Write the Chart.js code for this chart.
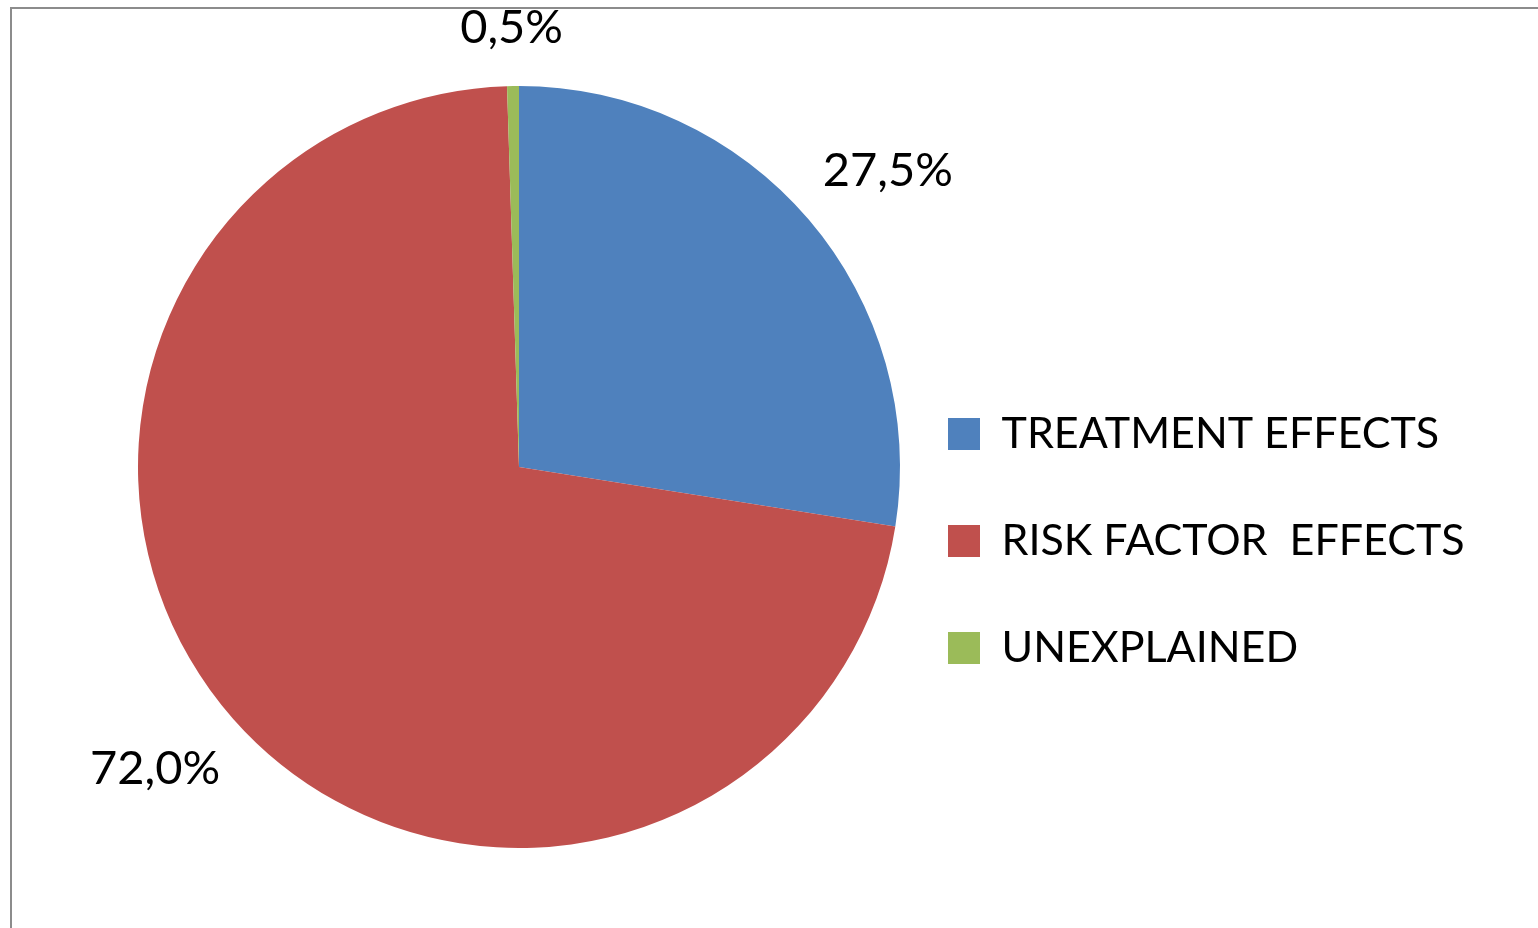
<!DOCTYPE html>
<html lang="en">
<head>
    <meta charset="UTF-8">
    <title>Effects breakdown</title>
    <script src="https://cdn.jsdelivr.net/npm/chart.js"></script>
    <style>
        html, body { margin: 0; padding: 0; background: #fff; }
        .wrap { position: relative; width: 1538px; height: 928px; overflow: hidden; }
        .frame { position: absolute; left: 10px; top: 7px; right: -5px; bottom: -5px;
                 border-top: 2px solid #8c8c8c; border-left: 2px solid #8c8c8c; }
        canvas { position: absolute; left: 0; top: 0; }
    </style>
</head>
<body>
<div class="wrap">
    <div class="frame"></div>
    <canvas id="pie" width="1538" height="928"></canvas>
</div>

<script>
    // data
    const categories = ["TREATMENT EFFECTS", "RISK FACTOR  EFFECTS", "UNEXPLAINED"];
    const shares = [27.5, 72.0, 0.5];
    const sliceColors = ["#4F81BD", "#C0504D", "#9BBB59"];

    const FONT = "Lato, 'Open Sans', sans-serif";
    const target = { cx: 519, cy: 467, boxX: 948, itemY: 412.5 };

    // percentage labels outside each slice, comma as decimal mark
    const outsideLabels = {
        id: "outsideLabels",
        afterDatasetsDraw(chart) {
            const ctx = chart.ctx;
            const meta = chart.getDatasetMeta(0);
            ctx.save();
            ctx.font = "47px " + FONT;
            ctx.fillStyle = "#000";
            ctx.textAlign = "center";
            ctx.textBaseline = "middle";
            meta.data.forEach((arc, i) => {
                const p = arc.getProps(["x", "y", "startAngle", "endAngle", "outerRadius"], true);
                const mid = (p.startAngle + p.endAngle) / 2;
                const txt = shares[i].toFixed(1).replace(".", ",") + "%";
                const w = ctx.measureText(txt).width;
                const gap = 39, halfH = 36.5;
                let x = p.x + Math.cos(mid) * (p.outerRadius + gap + w / 2);
                let y = p.y + Math.sin(mid) * (p.outerRadius + gap + halfH);
                y = Math.max(y, 28); // keep inside the frame
                ctx.fillText(txt, x, y);
            });
            ctx.restore();
        }
    };

    const chart = new Chart(document.getElementById("pie"), {
        type: "pie",
        data: {
            labels: categories,
            datasets: [{
                data: shares,
                backgroundColor: sliceColors,
                borderWidth: 0,
                hoverOffset: 0,
                offset: 0
            }]
        },
        options: {
            responsive: false,
            animation: false,
            events: [],
            radius: 381,
            layout: { padding: { top: 86, bottom: 80, left: 153, right: 73 } },
            plugins: {
                tooltip: { enabled: false },
                legend: {
                    position: "right",
                    align: "start",
                    title: { display: true, text: "", padding: { top: 249, bottom: 0 } },
                    labels: {
                        boxWidth: 32,
                        boxHeight: 32,
                        padding: 64,
                        color: "#000",
                        font: { family: FONT, size: 43 }
                    }
                }
            }
        },
        plugins: [outsideLabels]
    });

    // nudge the layout so pie centre and legend land where the reference has them
    for (let k = 0; k < 3; k++) {
        const pad = chart.options.layout.padding;
        const box = chart.legend.legendHitBoxes[0];
        const dx = box.left - target.boxX;
        pad.right += dx;
        const arc = chart.getDatasetMeta(0).data[0];
        const cx = arc.x - dx / 2;
        pad.left += 2 * (target.cx - cx);
        const cy = arc.y;
        pad.top += target.cy - cy;
        pad.bottom -= target.cy - cy;
        chart.options.plugins.legend.title.padding.top += target.itemY - box.top - (target.cy - cy);
        chart.update();
    }
</script>
</body>
</html>
